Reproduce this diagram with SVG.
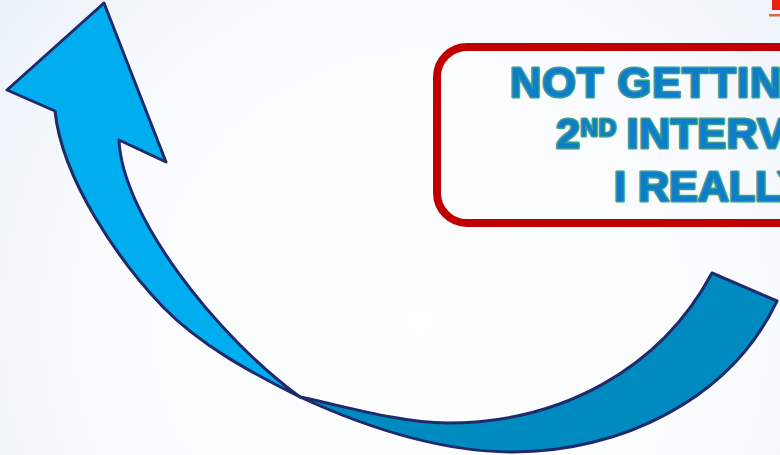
<svg xmlns="http://www.w3.org/2000/svg" width="780" height="455" viewBox="0 0 780 455">
  <defs>
    <radialGradient id="bg" cx="420" cy="320" r="620" gradientUnits="userSpaceOnUse">
      <stop offset="0" stop-color="#FFFFFF"/>
      <stop offset="0.55" stop-color="#F9FBFE"/>
      <stop offset="1" stop-color="#E2ECF6"/>
    </radialGradient>
    <style>
      .arrow { stroke: #1E2A6A; stroke-width: 3; stroke-linejoin: round; }
      .light { fill: #00AEEF; }
      .dark { fill: #008BC0; }
      .txt { font-family: "Liberation Sans", Arial, sans-serif; font-weight: bold; font-size: 43px; fill: #0E7DCA; stroke: #3A9E8C; stroke-width: 3.2; stroke-linejoin: round; paint-order: stroke fill; }
    </style>
  </defs>
  <rect x="0" y="0" width="780" height="455" fill="url(#bg)"/>

  <g id="corner-mark">
    <rect x="772" y="0" width="8" height="10" fill="#E8210F"/>
    <rect x="769" y="14" width="11" height="2.5" fill="#E06552"/>
  </g>

  <g id="connectors">
    <path id="arrow-back" class="arrow light" d="M104,3 L166,162 L119,140 C122,215 215,335 300,397 C250,372 200,345 163,307 C120,262 62,180 55,111 L7,90 Z"/>
    <path id="arrow-front" class="arrow dark" d="M300,397 C340,405 400,423 447,423 C560,423 660,370 712,273 L777,301 C730,400 620,452 513,452 C430,452 350,420 300,397 Z"/>
  </g>

  <g id="callout">
    <rect x="437" y="47" width="420" height="176" rx="30" ry="30" fill="none" stroke="#C00000" stroke-width="8"/>
    <text class="txt" x="510" y="97" letter-spacing="1.2">NOT GETTING</text>
    <text class="txt" x="556" y="148" letter-spacing="0.5">2<tspan font-size="24" dy="-12" letter-spacing="1">ND</tspan><tspan x="614" dy="12"> INTERV</tspan></text>
    <text class="txt" x="614" y="201" font-size="42">I REALLY</text>
  </g>
</svg>
